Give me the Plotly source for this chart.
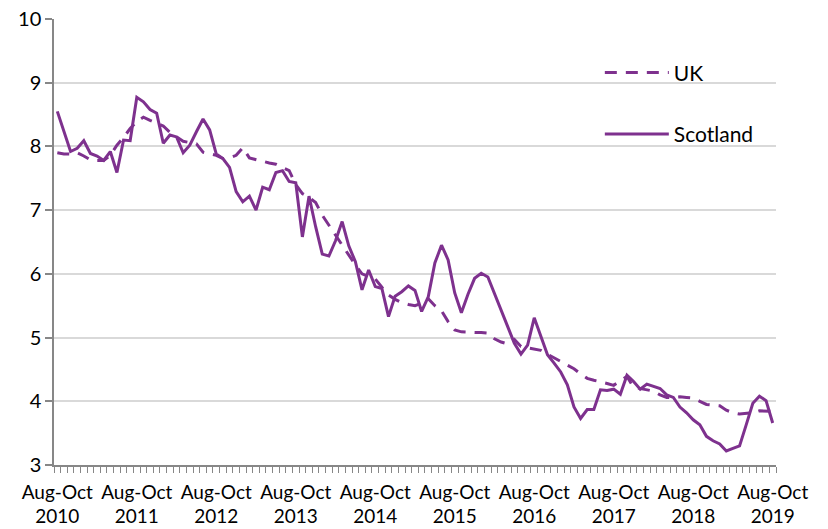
import plotly.graph_objects as go

months = ["Jan", "Feb", "Mar", "Apr", "May", "Jun", "Jul", "Aug", "Sep", "Oct", "Nov", "Dec"]
# rolling three-month periods, Aug-Oct 2010 ... Aug-Oct 2019
periods = []
for k in range(109):
    s = (7 + k) % 12
    e = (s + 2) % 12
    yr = 2010 + (7 + k + 2) // 12
    periods.append(f"{months[s]}-{months[e]} {yr}")

tick_index = [0, 12, 24, 36, 48, 60, 72, 84, 96, 108]
tick_labels = ["Aug-Oct<br>2010", "Aug-Oct<br>2011", "Aug-Oct<br>2012", "Aug-Oct<br>2013",
               "Aug-Oct<br>2014", "Aug-Oct<br>2015", "Aug-Oct<br>2016", "Aug-Oct<br>2017",
               "Aug-Oct<br>2018", "Aug-Oct<br>2019"]

uk = [7.90, 7.88, 7.88, 7.90, 7.85, 7.79, 7.78, 7.78, 7.86, 8.02,
      8.14, 8.28, 8.39, 8.46, 8.41, 8.37, 8.32, 8.22, 8.15, 8.08,
      8.06, 8.04, 7.91, 7.88, 7.86, 7.81, 7.82, 7.86, 7.98, 7.82,
      7.79, 7.76, 7.74, 7.72, 7.67, 7.62, 7.40, 7.26, 7.20, 7.12,
      6.92, 6.76, 6.60, 6.46, 6.28, 6.14, 6.00, 5.96, 5.92, 5.79,
      5.67, 5.60, 5.55, 5.52, 5.50, 5.54, 5.61, 5.50, 5.42, 5.25,
      5.12, 5.09, 5.08, 5.08, 5.08, 5.07, 4.98, 4.93, 4.90, 4.97,
      4.86, 4.84, 4.83, 4.80, 4.74, 4.68, 4.62, 4.56, 4.51, 4.43,
      4.36, 4.33, 4.31, 4.28, 4.25, 4.32, 4.39, 4.22, 4.20, 4.19,
      4.16, 4.10, 4.06, 4.06, 4.07, 4.06, 4.05, 4.00, 3.95, 3.94,
      3.93, 3.86, 3.82, 3.80, 3.81, 3.82, 3.85, 3.84, 3.84]

scotland = [8.55, 8.23, 7.92, 7.97, 8.09, 7.89, 7.85, 7.78, 7.92, 7.59,
            8.10, 8.09, 8.77, 8.70, 8.58, 8.52, 8.05, 8.18, 8.15, 7.90,
            8.02, 8.23, 8.43, 8.26, 7.88, 7.81, 7.67, 7.29, 7.13, 7.22,
            7.00, 7.36, 7.32, 7.59, 7.62, 7.45, 7.43, 6.58, 7.22, 6.74,
            6.31, 6.28, 6.52, 6.82, 6.44, 6.19, 5.75, 6.06, 5.80, 5.77,
            5.33, 5.65, 5.72, 5.81, 5.74, 5.41, 5.64, 6.17, 6.45, 6.22,
            5.70, 5.39, 5.68, 5.93, 6.01, 5.95, 5.69, 5.41, 5.17, 4.91,
            4.74, 4.88, 5.31, 5.01, 4.73, 4.60, 4.46, 4.26, 3.91, 3.73,
            3.87, 3.87, 4.18, 4.17, 4.19, 4.11, 4.41, 4.31, 4.19, 4.27,
            4.24, 4.20, 4.10, 4.06, 3.91, 3.82, 3.71, 3.63, 3.45, 3.38,
            3.33, 3.22, 3.26, 3.30, 3.63, 3.97, 4.08, 4.01, 3.66]

x = list(range(len(periods)))
purple = "#7E318E"
font = "Lato, 'Open Sans', sans-serif"

fig = go.Figure()
fig.add_trace(go.Scatter(x=x, y=uk, mode="lines", name="UK", legendgroup="uk",
                         customdata=periods, hovertemplate="%{customdata}: %{y}<extra>UK</extra>",
                         line=dict(color=purple, width=3, dash="12px,9px")))
fig.add_trace(go.Scatter(x=x, y=scotland, mode="lines", name="Scotland", legendgroup="sc",
                         customdata=periods, hovertemplate="%{customdata}: %{y}<extra>Scotland</extra>",
                         line=dict(color=purple, width=3)))

fig.update_layout(
    width=828, height=529,
    margin=dict(l=54, r=52, t=19, b=64),
    paper_bgcolor="white", plot_bgcolor="white",
    font=dict(family=font, size=20, color="#000000"),
    showlegend=True,
    legend=dict(x=0.756, y=0.925, xanchor="left", yanchor="top",
                bgcolor="rgba(0,0,0,0)", traceorder="grouped", tracegroupgap=31,
                font=dict(family=font, size=21, color="#000000"), itemwidth=64),
    xaxis=dict(range=[-0.5, 108.5], tickmode="array", tickvals=tick_index, ticktext=tick_labels,
               ticks="outside", ticklen=9, tickcolor="rgba(0,0,0,0)", automargin=False,
               showgrid=False, zeroline=False,
               showline=True, linecolor="#878787", linewidth=1.5,
               tickfont=dict(family=font, size=19),
               minor=dict(tick0=-0.5, dtick=1, ticks="outside", ticklen=6,
                          tickcolor="#878787", tickwidth=1, showgrid=False)),
    yaxis=dict(range=[3, 10], dtick=1, ticks="outside", ticklen=7, tickcolor="#878787",
               tickwidth=1.5, showgrid=True, gridcolor="#D9D9D9", gridwidth=1.5, automargin=False,
               zeroline=False, showline=True, linecolor="#878787", linewidth=1.5,
               tickfont=dict(family=font, size=20)),
)

fig.write_html("out.html", config={"displayModeBar": False},
               post_script="document.body.style.margin='0';")
